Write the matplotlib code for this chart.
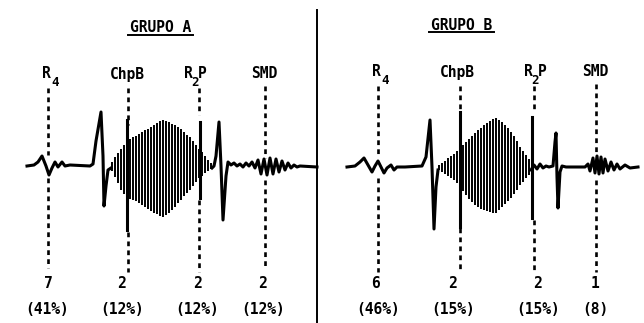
import matplotlib
matplotlib.use("Agg")
import matplotlib.pyplot as plt
from matplotlib.font_manager import FontProperties

# ---------------- data ----------------
groups = ["GRUPO A", "GRUPO B"]
counts_a = ["7", "2", "2", "2"]
pct_a = ["(41%)", "(12%)", "(12%)", "(12%)"]
counts_b = ["6", "2", "2", "1"]
pct_b = ["(46%)", "(15%)", "(15%)", "(8)"]

# trace A (x, amplitude, positive = up)
pre_a_x = [27, 34, 38, 42, 46, 49, 52, 55, 58, 62, 65, 70, 90, 93, 96, 101, 103, 104, 106, 108, 111]
pre_a_y = [0, 1, 4, 10, 0, -9, -2, 4, -1, 4, 0, 1, 0, 2, 25, 54, 10, -40, -20, -4, -2]
mur_a_x = [112, 115, 118, 121, 124, 127, 130, 133, 136, 139, 142, 145, 148, 151, 154, 157, 160,
           163, 166, 169, 172, 175, 178, 181, 184, 187, 190, 193, 196, 199, 202, 205, 208, 211]
mur_a_top = [4, 9, 13, 17, 21, 24, 27, 29, 30, 32, 34, 36, 37, 39, 41, 43, 45,
             46, 45, 44, 42, 41, 39, 37, 34, 31, 29, 25, 21, 17, 14, 10, 6, 3]
mur_a_bot = [-5, -11, -17, -24, -28, -31, -33, -34, -35, -37, -39, -41, -43, -45, -47, -48, -50,
             -51, -49, -47, -44, -41, -37, -34, -30, -27, -24, -20, -16, -12, -10, -7, -5, -3]
post_a_x = [212, 214, 216, 219, 221, 223, 226, 228, 231, 234, 237, 240, 243, 246, 249, 252, 255,
            258, 261, 264, 267, 270, 273, 276, 279, 282, 285, 288, 291, 294, 297, 300, 317]
post_a_y = [-2, 0, 10, 44, 0, -54, -10, 4, 1, 3, 0, 2, -1, 3, 0, 4, -2,
            6, -8, 7, -9, 8, -8, 7, -6, 5, -4, 3, -2, 1, -1, 0, -1]
spike_a_x = [127, 200]
spike_a_top = [46, 44]
spike_a_bot = [-64, -32]

# trace B
pre_b_x = [347, 355, 360, 364, 368, 372, 375, 378, 381, 384, 387, 391, 394, 397, 405, 422, 426, 430, 432, 434, 436, 438]
pre_b_y = [0, 1, 5, 9, 2, -5, 1, 6, 0, -6, -1, 2, -3, 0, 0, 1, 10, 47, 0, -62, -20, -3]
mur_b_x = [439, 442, 445, 448, 451, 454, 457, 460, 463, 466, 469, 472, 475, 478, 481, 484,
           487, 490, 493, 496, 499, 502, 505, 508, 511, 514, 517, 520, 523, 526, 529]
mur_b_top = [2, 4, 6, 9, 11, 13, 16, 19, 22, 25, 28, 31, 34, 37, 39, 42,
             44, 46, 48, 49, 47, 45, 42, 39, 35, 31, 26, 20, 16, 12, 8]
mur_b_bot = [-3, -5, -7, -9, -11, -13, -16, -20, -24, -28, -32, -35, -38, -40, -42, -43,
             -44, -45, -46, -46, -43, -40, -37, -34, -31, -27, -23, -18, -15, -11, -8]
post_b_x = [531, 534, 537, 540, 543, 546, 549, 553, 555, 556, 557, 558, 560, 562, 566, 585, 588,
            590, 593, 595, 597, 599, 601, 603, 605, 608, 611, 614, 617, 620, 625, 630, 638]
post_b_y = [-3, 2, -2, 3, -1, 1, 0, 1, 25, 34, -10, -41, -5, 1, 0, 0, 3,
            -4, 9, -6, 11, -7, 10, -6, 8, -4, 5, -3, 3, -2, 2, -1, 0]
spike_b_x = [460, 532]
spike_b_top = [55, 50]
spike_b_bot = [-60, -51]

# ---------------- layout ----------------
W, H = 644, 323
fig = plt.figure(figsize=(W / 100, H / 100), dpi=100)
ax = fig.add_axes([0, 0, 1, 1])
ax.set_xlim(0, W)
ax.set_ylim(H, 0)
ax.axis("off")

ink = "black"
fam = ["DejaVu Sans Mono", "Liberation Mono"]
fp = FontProperties(family=fam, weight="bold", size=10.5)
fp_sub = FontProperties(family=fam, weight="bold", size=9)


def draw_trace(base, pre_x, pre_y, mx, mt, mb, post_x, post_y, sx, st, sb):
    ax.plot(pre_x, [base - v for v in pre_y], color=ink, lw=2.2, solid_joinstyle="round")
    # murmur: dense vertical strokes
    ax.vlines(mx, [base - t for t in mt], [base - b for b in mb], color=ink, lw=1.4)
    ax.plot(post_x, [base - v for v in post_y], color=ink, lw=2.2, solid_joinstyle="round")
    for x, t, b in zip(sx, st, sb):
        ax.plot([x, x], [base - t, base - b], color=ink, lw=2.2)


draw_trace(166, pre_a_x, pre_a_y, mur_a_x, mur_a_top, mur_a_bot, post_a_x, post_a_y,
           spike_a_x, spike_a_top, spike_a_bot)
draw_trace(167, pre_b_x, pre_b_y, mur_b_x, mur_b_top, mur_b_bot, post_b_x, post_b_y,
           spike_b_x, spike_b_top, spike_b_bot)

# divider
ax.plot([317, 317], [10, H], color=ink, lw=1.4)

# dashed marker lines
dash_x = [48, 128, 199, 265, 378, 460, 534, 596]
up_start = [88, 88, 88, 86, 86, 86, 86, 84]
up_end = [155, 125, 115, 158, 155, 112, 112, 155]
lo_start = [178, 232, 200, 180, 178, 228, 220, 180]
lo_end = [268, 272, 272, 268, 272, 272, 272, 272]
for x, a, b, c, d in zip(dash_x, up_start, up_end, lo_start, lo_end):
    ax.plot([x, x], [a, b], color=ink, lw=1.9, linestyle=(0, (1.8, 1.6)))
    ax.plot([x, x], [c, d], color=ink, lw=1.9, linestyle=(0, (1.8, 1.6)))

# titles
title_x = [160.5, 461.5]
title_y = [28, 25]
for g, x, y in zip(groups, title_x, title_y):
    ax.text(x, y, g, ha="center", va="center", fontproperties=fp, color=ink)
    ax.plot([x - 32.5, x + 32.5], [y + 7, y + 7], color=ink, lw=1.4)

# marker labels
for xoff, y in [(0, 74), (329.5, 72)]:
    ax.text(46.5 + xoff, y, "R", ha="center", va="center", fontproperties=fp, color=ink)
    ax.text(55.5 + xoff, y + 9, "4", ha="center", va="center", fontproperties=fp_sub, color=ink)
for x, y in [(127, 74), (457, 72)]:
    ax.text(x, y, "ChpB", ha="center", va="center", fontproperties=fp, color=ink)
for x, y in [(188.5, 74), (528, 72)]:
    ax.text(x, y, "R", ha="center", va="center", fontproperties=fp, color=ink)
    ax.text(x + 7, y + 9, "2", ha="center", va="center", fontproperties=fp_sub, color=ink)
    ax.text(x + 14, y, "P", ha="center", va="center", fontproperties=fp, color=ink)
for x, y in [(264, 74), (595.5, 72)]:
    ax.text(x, y, "SMD", ha="center", va="center", fontproperties=fp, color=ink)

# counts and percentages
cnt_x = [48, 122, 198, 263, 376, 453, 538, 595]
pct_x = [47, 122, 197, 263, 378, 453, 538, 595]
for x, s in zip(cnt_x, counts_a + counts_b):
    ax.text(x, 284, s, ha="center", va="center", fontproperties=fp, color=ink)
for x, s in zip(pct_x, pct_a + pct_b):
    ax.text(x, 309, s, ha="center", va="center", fontproperties=fp, color=ink)

fig.savefig("out.png", dpi=100, facecolor="white")
